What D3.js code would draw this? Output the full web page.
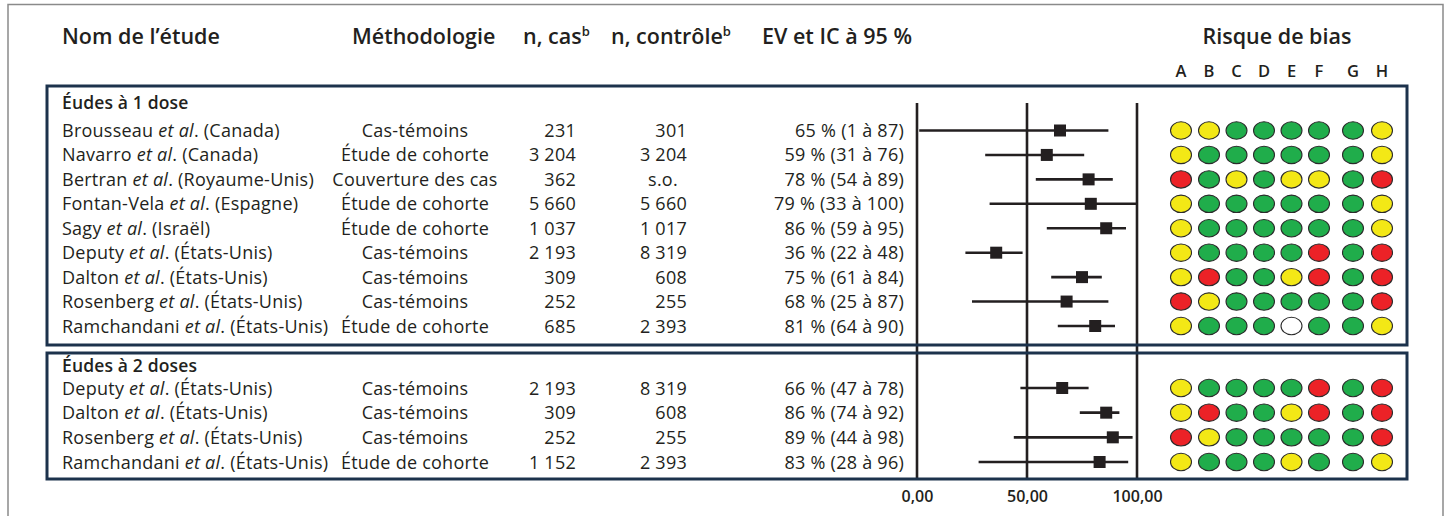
<!DOCTYPE html>
<html lang="fr">
<head>
<meta charset="utf-8">
<script src="https://cdn.jsdelivr.net/npm/d3@7"></script>
<style>
  html, body { margin: 0; padding: 0; background: #fff; }
  svg { display: block; font-family: "Open Sans", "Noto Sans", sans-serif; }
</style>
</head>
<body>
<svg id="chart" width="1450" height="516"></svg>
<script>
// Single-dose studies
const studies1 = [
  ["Brousseau", "Canada"], ["Navarro", "Canada"], ["Bertran", "Royaume-Unis"],
  ["Fontan-Vela", "Espagne"], ["Sagy", "Israël"], ["Deputy", "États-Unis"],
  ["Dalton", "États-Unis"], ["Rosenberg", "États-Unis"], ["Ramchandani", "États-Unis"]
];
const methods1 = ["Cas-témoins", "Étude de cohorte", "Couverture des cas", "Étude de cohorte",
  "Étude de cohorte", "Cas-témoins", "Cas-témoins", "Cas-témoins", "Étude de cohorte"];
const cases1 = [231, 3204, 362, 5660, 1037, 2193, 309, 252, 685];
const controls1 = [301, 3204, null, 5660, 1017, 8319, 608, 255, 2393];
const ve1 = [65, 59, 78, 79, 86, 36, 75, 68, 81];
const ciLow1 = [1, 31, 54, 33, 59, 22, 61, 25, 64];
const ciHigh1 = [87, 76, 89, 100, 95, 48, 84, 87, 90];
const bias1 = [
  "YYGGGGGY", "YGGGGGGY", "RGYGYYGR", "YGGGGGGY", "YGGGGGGY",
  "YGGGGRGR", "YRGGYRGR", "RYGGGGGR", "YGGGWGGY"
];

// Two-dose studies
const studies2 = [["Deputy", "États-Unis"], ["Dalton", "États-Unis"], ["Rosenberg", "États-Unis"], ["Ramchandani", "États-Unis"]];
const methods2 = ["Cas-témoins", "Cas-témoins", "Cas-témoins", "Étude de cohorte"];
const cases2 = [2193, 309, 252, 1152];
const controls2 = [8319, 608, 255, 2393];
const ve2 = [66, 86, 89, 83];
const ciLow2 = [47, 74, 44, 28];
const ciHigh2 = [78, 92, 98, 96];
const bias2 = ["YGGGGRGR", "YRGGYRGR", "RYGGGGGR", "YGGGYGGY"];

const groupTitles = ["Éudes à 1 dose", "Éudes à 2 doses"];
const biasDomains = ["A", "B", "C", "D", "E", "F", "G", "H"];
const axisTicks = [0, 50, 100];

const fr = d3.formatLocale({ decimal: ",", thousands: " ", grouping: [3], currency: ["", " €"] });
const fmtN = fr.format(",d");
const fmtTick = fr.format(".2f");

const ink = "#231f20";
const navy = "#1c324c";
const biasColor = { Y: "#f3e816", G: "#20ad4b", R: "#ec2227", W: "#ffffff" };

const svg = d3.select("#chart");

// outer frame
svg.append("rect").attr("x", 8).attr("y", 4.5).attr("width", 1435).attr("height", 540)
  .attr("fill", "none").attr("stroke", "#8a8a8a").attr("stroke-width", 1.5);

// column headers
const head = svg.append("g").attr("fill", ink).attr("font-weight", 600).attr("font-size", 21.5);
head.append("text").attr("x", 62).attr("y", 44).text("Nom de l’étude");
head.append("text").attr("x", 352).attr("y", 44).text("Méthodologie");
const hc = head.append("text").attr("x", 523).attr("y", 44).text("n, cas");
hc.append("tspan").attr("font-size", 13).attr("dy", -8).text("b");
const hk = head.append("text").attr("x", 611).attr("y", 44).text("n, contrôle");
hk.append("tspan").attr("font-size", 13).attr("dy", -8).text("b");
head.append("text").attr("x", 762).attr("y", 44).text("EV et IC à 95 %");
head.append("text").attr("x", 1277).attr("y", 44).attr("text-anchor", "middle").text("Risque de bias");

// scales
const x = d3.scaleLinear().domain([0, 100]).range([917, 1137]);
const bx = d3.scaleOrdinal().domain(biasDomains)
  .range([1181, 1209, 1236.5, 1264, 1291.5, 1319, 1353, 1382]);

svg.append("g").attr("fill", ink).attr("font-weight", 600).attr("font-size", 16.5)
  .attr("text-anchor", "middle")
  .selectAll("text").data(biasDomains).join("text")
  .attr("x", d => bx(d)).attr("y", 77).text(d => d);

const groups = [
  { title: groupTitles[0], studies: studies1, methods: methods1, cases: cases1, controls: controls1,
    ve: ve1, lo: ciLow1, hi: ciHigh1, bias: bias1, titleY: 109, y0: 130.5, y1: 326, top: 86, bottom: 345 },
  { title: groupTitles[1], studies: studies2, methods: methods2, cases: cases2, controls: controls2,
    ve: ve2, lo: ciLow2, hi: ciHigh2, bias: bias2, titleY: 371.5, y0: 388, y1: 462, top: 353, bottom: 479 }
];

// reference lines of the forest plot
svg.append("g").selectAll("line").data(axisTicks).join("line")
  .attr("x1", d => x(d)).attr("x2", d => x(d)).attr("y1", 103).attr("y2", 479)
  .attr("stroke", ink).attr("stroke-width", 2.6);

groups.forEach(g => {
  const idx = d3.range(g.studies.length);
  const y = d3.scalePoint().domain(idx).range([g.y0, g.y1]);
  const txt = svg.append("g").attr("fill", ink).attr("font-size", 18).attr("letter-spacing", 0.25);

  txt.append("text").attr("x", 62).attr("y", g.titleY).attr("font-weight", 600).attr("font-size", 17.5)
    .attr("letter-spacing", 0.15).text(g.title);

  const names = txt.append("g").selectAll("text").data(idx).join("text")
    .attr("x", 62).attr("y", i => y(i) + 6.5);
  names.append("tspan").text(i => g.studies[i][0] + " ");
  names.append("tspan").attr("font-style", "italic").text("et al");
  names.append("tspan").text(i => ". (" + g.studies[i][1] + ")");

  txt.append("g").selectAll("text").data(idx).join("text")
    .attr("x", 415).attr("y", i => y(i) + 6.5).attr("text-anchor", "middle").text(i => g.methods[i]);
  txt.append("g").selectAll("text").data(idx).join("text")
    .attr("x", 576).attr("y", i => y(i) + 6.5).attr("text-anchor", "end").text(i => fmtN(g.cases[i]));
  txt.append("g").selectAll("text").data(idx).join("text")
    .attr("x", i => g.controls[i] == null ? 663 : 687).attr("y", i => y(i) + 6.5)
    .attr("text-anchor", i => g.controls[i] == null ? "middle" : "end")
    .text(i => g.controls[i] == null ? "s.o." : fmtN(g.controls[i]));
  txt.append("g").selectAll("text").data(idx).join("text")
    .attr("x", 904).attr("y", i => y(i) + 6.5).attr("text-anchor", "end")
    .text(i => `${g.ve[i]} % (${g.lo[i]} à ${g.hi[i]})`);

  // confidence intervals and point estimates
  const fp = svg.append("g");
  fp.selectAll("line").data(idx).join("line")
    .attr("x1", i => x(g.lo[i])).attr("x2", i => x(g.hi[i]))
    .attr("y1", i => y(i)).attr("y2", i => y(i))
    .attr("stroke", ink).attr("stroke-width", 2.6);
  fp.selectAll("rect").data(idx).join("rect")
    .attr("x", i => x(g.ve[i]) - 6).attr("y", i => y(i) - 6)
    .attr("width", 12).attr("height", 12).attr("fill", ink);

  // risk-of-bias grid
  const cells = idx.flatMap(i => biasDomains.map((d, j) => ({ i, d, v: g.bias[i][j] })));
  svg.append("g").selectAll("ellipse").data(cells).join("ellipse")
    .attr("cx", c => bx(c.d)).attr("cy", c => y(c.i))
    .attr("rx", 10.5).attr("ry", 8.7)
    .attr("fill", c => biasColor[c.v]).attr("stroke", "#2b2b2b").attr("stroke-width", 1.1);

  // group frame
  svg.append("rect").attr("x", 47).attr("y", g.top).attr("width", 1360).attr("height", g.bottom - g.top)
    .attr("fill", "none").attr("stroke", navy).attr("stroke-width", 3);
});

// axis labels
const axis = d3.axisBottom(x).tickValues(axisTicks).tickSize(0).tickPadding(0).tickFormat(fmtTick);
const ax = svg.append("g").attr("transform", "translate(0,491)").call(axis);
ax.select(".domain").remove();
ax.selectAll("text").attr("font-family", "'Open Sans', 'Noto Sans', sans-serif")
  .attr("font-size", 16).attr("font-weight", 600).attr("fill", ink);
</script>
</body>
</html>
